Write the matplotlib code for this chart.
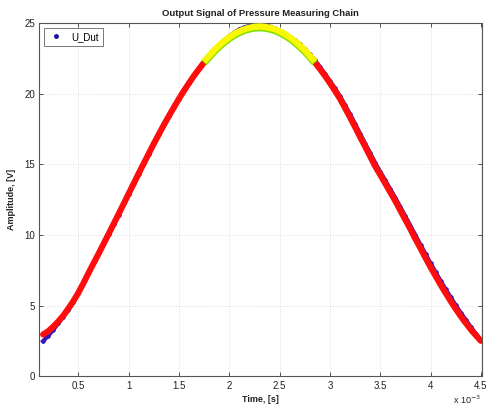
import numpy as np
import matplotlib
matplotlib.use("Agg")
import matplotlib.pyplot as plt
from matplotlib.lines import Line2D

plt.rcParams['font.family'] = ['Liberation Sans', 'DejaVu Sans']

# time samples in ms (axis shown with x 10^-3 multiplier)
t_ms = np.linspace(0.15, 4.50, 88)

# measured signal U_Dut [V]
u_dut = [2.50, 2.88, 3.30, 3.75, 4.22, 4.70, 5.25, 5.88, 6.60, 7.30,
         8.02, 8.64, 9.40, 10.05, 10.82, 11.45, 12.25, 12.90, 13.70, 14.33,
         15.12, 15.74, 16.52, 17.12, 17.86, 18.40, 19.10, 19.62, 20.28, 20.74,
         21.33, 21.80, 22.30, 22.70, 23.10, 23.45, 23.78, 24.08, 24.33, 24.55,
         24.70, 24.80, 24.86, 24.88, 24.85, 24.76, 24.62, 24.45, 24.25, 24.02,
         23.78, 23.50, 23.15, 22.78, 22.38, 21.90, 21.42, 20.90, 20.38, 19.82,
         19.20, 18.55, 17.87, 17.17, 16.48, 15.80, 15.10, 14.48, 13.87, 13.25,
         12.63, 11.98, 11.32, 10.66, 9.98, 9.32, 8.66, 8.00, 7.38, 6.76,
         6.16, 5.60, 5.03, 4.50, 4.00, 3.50, 3.02, 2.55]

# fitted curve [V]
u_fit = [2.97, 3.20, 3.52, 3.89, 4.30, 4.80, 5.33, 5.92, 6.59, 7.30,
         7.99, 8.67, 9.37, 10.07, 10.78, 11.49, 12.21, 12.93, 13.65, 14.37,
         15.07, 15.77, 16.47, 17.14, 17.80, 18.43, 19.05, 19.65, 20.22, 20.76,
         21.28, 21.76, 22.22, 22.63, 23.02, 23.36, 23.67, 23.94, 24.17, 24.36,
         24.51, 24.61, 24.68, 24.70, 24.68, 24.61, 24.51, 24.36, 24.17, 23.94,
         23.67, 23.36, 23.02, 22.63, 22.22, 21.76, 21.28, 20.76, 20.22, 19.65,
         19.00, 18.33, 17.65, 16.94, 16.27, 15.57, 14.87, 14.27, 13.65, 13.03,
         12.41, 11.74, 11.08, 10.42, 9.72, 9.07, 8.39, 7.73, 7.11, 6.49,
         5.90, 5.33, 4.78, 4.26, 3.78, 3.32, 2.91, 2.52]

# peak window (ms)
peak_start, peak_end = 1.75, 2.85

xticks = [0.5, 1, 1.5, 2, 2.5, 3, 3.5, 4, 4.5]
yticks = [0, 5, 10, 15, 20, 25]

u_dut = np.array(u_dut)
u_fit = np.array(u_fit)

fig = plt.figure(figsize=(4.88, 4.09), dpi=100)
ax = fig.add_axes([0.0805, 0.0795, 0.907, 0.864])

blue = '#3a16b8'
ax.plot(t_ms, u_dut, '-', color=blue, lw=3.0, zorder=2)
ax.plot(t_ms, u_dut, '.', color=blue, markersize=4.5, zorder=2)

lo = t_ms <= peak_start + 1e-9
hi = t_ms >= peak_end - 1e-9
mid = (~lo) & (~hi)
mid_idx = np.where(mid)[0]
mid_idx = np.concatenate(([mid_idx[0] - 1], mid_idx, [mid_idx[-1] + 1]))

ax.plot(t_ms[lo], u_fit[lo], '-', color='#ff0d0d', lw=4.4, solid_capstyle='round', zorder=3)
ax.plot(t_ms[hi], u_fit[hi], '-', color='#ff0d0d', lw=4.4, solid_capstyle='round', zorder=3)
ax.plot(t_ms[mid_idx], u_fit[mid_idx] - 0.03, '-', color='#80e000', lw=5.2, solid_capstyle='butt', zorder=4)
ax.plot(t_ms[mid_idx], u_fit[mid_idx] + 0.06, '-', color='#f8f800', lw=4.6, solid_capstyle='butt', zorder=5)

ax.set_xlim(0.112, 4.51)
ax.set_ylim(0, 25)
ax.set_xticks(xticks)
ax.set_xticklabels(['0.5', '1', '1.5', '2', '2.5', '3', '3.5', '4', '4.5'])
ax.set_yticks(yticks)
ax.tick_params(direction='in', top=True, right=True, labelsize=7, length=3,
               width=0.6, colors='#333333', labelcolor='#222222', pad=3)
for s in ax.spines.values():
    s.set_color('#555555')
    s.set_linewidth(0.8)
ax.grid(True, color='#dddddd', linestyle=':', linewidth=0.7)

ax.set_title('Output Signal of Pressure Measuring Chain', fontsize=6.8,
             fontweight='bold', color='#222222', pad=5)
ax.set_xlabel('Time, [s]', fontsize=6.5, fontweight='bold', color='#222222', labelpad=3)
ax.set_ylabel('Amplitude, [V]', fontsize=6.5, fontweight='bold', color='#222222', labelpad=6)
fig.text(0.928, 0.012, 'x 10$^{-3}$', fontsize=6.5, color='#222222')

handle = Line2D([], [], linestyle='none', marker='.', color='#1a0fa0', markersize=5)
leg = ax.legend([handle], ['U_Dut'], loc='upper left', fontsize=7, frameon=True,
                fancybox=False, borderpad=0.4, handletextpad=0.8, handlelength=1.6,
                borderaxespad=0.5)
leg.get_frame().set_edgecolor('#555555')
leg.get_frame().set_linewidth(0.7)

fig.savefig('out.png', dpi=100)
